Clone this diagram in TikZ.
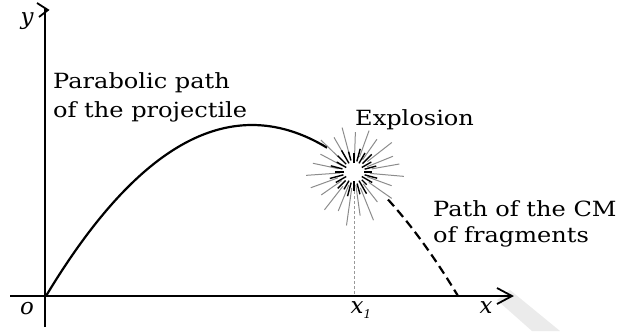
\documentclass[tikz,border=0pt]{standalone}
\usepackage{fontspec}
\setmainfont{DejaVu Serif}
\usetikzlibrary{calc}
\newcommand{\widetext}[1]{\scalebox{1.15}[1]{#1}}
\begin{document}
\begin{tikzpicture}[x=1bp,y=-1bp,
  axis/.style={line width=1.8bp,black},
  chev/.style={line width=1.8bp,black,line join=miter},
  curve/.style={line width=2.2bp,black},
  lbl/.style={inner sep=0pt,anchor=base west,font=\fontsize{21}{24}\selectfont},
  ital/.style={inner sep=0pt,font=\fontsize{23}{26}\selectfont\itshape},
  ray/.style={line width=1.4bp,black},
  gray ray/.style={line width=1bp,black!45}]
\useasboundingbox (0,0) rectangle (632,331);
% watermark stripe
\fill[black!8] (497,300) -- (510,290) -- (560,331) -- (532,331) -- cycle;
% axes
\coordinate (O) at (45,296);
\coordinate (xs) at (10,296);
\coordinate (xe) at (512,296);
\coordinate (ys) at (45,327);
\coordinate (ye) at (45,8);
\draw[axis] (xs) -- (xe);
\draw[axis] (ys) -- (ye);
\draw[chev] (497,288) -- (xe) -- (497,304);
\draw[chev] (37,3) -- (48,10) -- (39,17);
% labels
\node[ital] (ylab) at (27,21) {y};
\node[ital] (olab) at (27,309) {o};
\node[ital] (xlab) at (486,308) {x};
\node[ital] (x1lab) at (361,310) {x\raisebox{-0.45ex}{\fontsize{12}{13}\selectfont 1}};
% trajectory
\draw[curve] plot[domain=46:327,samples=80] (\x,{125+171*((\x-252)/206)^2});
\draw[curve,dash pattern=on 9bp off 5bp] plot[domain=388:458,samples=30] (\x,{125+171*((\x-252)/206)^2});
% explosion
\coordinate (E) at (354,172);
\draw[black!40,line width=0.9bp,dash pattern=on 3bp off 2bp] (354,186) -- (354,296);
\foreach \a/\r/\R in {5/16/50, 20/14/40, 35/18/46, 52/15/38, 68/17/52, 82/13/44, 98/16/54, 112/14/42, 128/18/48, 145/15/40, 160/17/46, 176/14/48, 192/16/42, 208/13/38, 224/17/46, 240/15/40, 255/18/46, 272/14/40, 290/16/44, 305/15/40, 322/17/48, 338/14/42, 350/18/46}
  \draw[gray ray] ($(E)+(\a:\r)$) -- ($(E)+(\a:\R)$);
\foreach \a/\r/\R in {0/10/18, 15/11/24, 30/9/21, 45/11/18, 60/10/25, 75/12/23, 90/9/19, 105/11/25, 120/10/20, 135/12/23, 150/9/21, 165/11/25, 180/10/19, 195/12/24, 210/9/20, 225/11/23, 240/10/25, 255/12/21, 270/9/19, 285/11/24, 300/10/22, 315/12/25, 330/9/20, 345/11/23}
  \draw[ray] ($(E)+(\a:\r)$) -- ($(E)+(\a:\R)$);
% text labels
\node[lbl] (t1) at (53,88) {\widetext{Parabolic path}};
\node[lbl] (t2) at (53,117) {\widetext{of the projectile}};
\node[lbl] (t3) at (355,125) {\widetext{Explosion}};
\node[lbl] (t4) at (433,216) {\widetext{Path of the CM}};
\node[lbl] (t5) at (433,242) {\widetext{of fragments}};
\end{tikzpicture}
\end{document}
